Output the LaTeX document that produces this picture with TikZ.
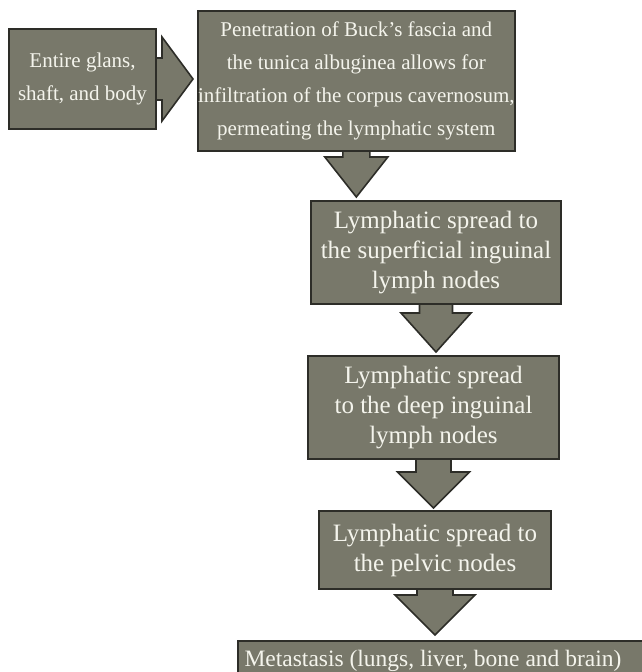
\documentclass[tikz,border=0pt]{standalone}
\usepackage{fontspec}
\setmainfont{Liberation Serif}
\usetikzlibrary{calc,backgrounds}
\definecolor{boxfill}{RGB}{120,120,106}
\definecolor{boxline}{RGB}{45,45,40}
\definecolor{boxtext}{RGB}{244,244,236}
\tikzset{
  flowbox/.style={draw=boxline, line width=2pt, fill=boxfill, text=boxtext,
    align=center, inner sep=0pt, anchor=north west,
    font=\fontsize{21}{33}\selectfont},
  bigtext/.style={font=\fontsize{25}{30}\selectfont},
  blockarrow/.style={draw=boxline, line width=1.6pt, fill=boxfill, line join=miter},
}
% #1 source, #2 target, #3 shaft half width, #4 head half width, #5 head height, #6 gap
\newcommand\flowdown[6]{%
  \draw[blockarrow] let \p1=(#1.south), \p2=(#2.north) in
    (\x1-#3,\y1+4pt) -- (\x1-#3,\y2+#6+#5) -- (\x1-#4,\y2+#6+#5) -- (\x1,\y2+#6)
    -- (\x1+#4,\y2+#6+#5) -- (\x1+#3,\y2+#6+#5) -- (\x1+#3,\y1+4pt) -- cycle;}
\begin{document}
\begin{tikzpicture}[x=1pt,y=-1pt]
\useasboundingbox (0,0) rectangle (642,672);
\node[flowbox, minimum width=147pt, minimum height=100pt] (A) at (8,28)
  {Entire glans,\\shaft, and body};
\node[flowbox, minimum width=316pt, minimum height=140pt] (B) at (197,10)
  {Penetration of Buck’s fascia and\\the tunica albuginea allows for\\infiltration of the corpus cavernosum,\\permeating the lymphatic system};
\node[flowbox, bigtext, minimum width=250pt, minimum height=103pt] (C) at (310,200)
  {Lymphatic spread to\\the superficial inguinal\\lymph nodes};
\node[flowbox, bigtext, minimum width=251pt, minimum height=103pt] (D) at (307,355)
  {Lymphatic spread\\to the deep inguinal\\lymph nodes};
\node[flowbox, bigtext, minimum width=232pt, minimum height=78pt] (E) at (318,510)
  {Lymphatic spread to\\the pelvic nodes};
\node[flowbox, font=\fontsize{23.5}{30}\selectfont, minimum width=420pt, minimum height=46pt] (F) at (237,640)
  {\raisebox{12pt}{Metastasis (lungs, liver, bone and brain)}\hspace*{30pt}};
\begin{scope}[on background layer]
  \draw[blockarrow] let \p1=(A.east), \p2=(B.west) in
    (\x1-4pt,\y1+21pt) -- (\x2-35pt,\y1+21pt) -- (\x2-35pt,\y1+42pt) -- (\x2-4pt,\y1)
    -- (\x2-35pt,\y1-42pt) -- (\x2-35pt,\y1-21pt) -- (\x1-4pt,\y1-21pt) -- cycle;
  \flowdown{B}{C}{13.5pt}{31.5pt}{40pt}{3pt}
  \flowdown{C}{D}{16.5pt}{35pt}{39pt}{3pt}
  \flowdown{D}{E}{17.5pt}{36pt}{36pt}{2pt}
  \flowdown{E}{F}{18pt}{40pt}{40pt}{5pt}
\end{scope}
\end{tikzpicture}
\end{document}
